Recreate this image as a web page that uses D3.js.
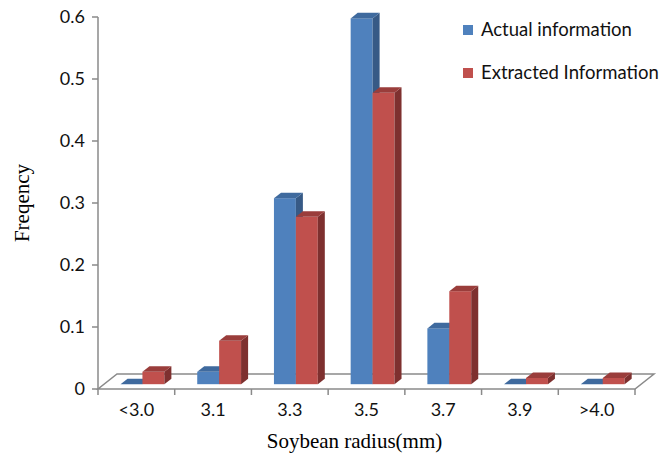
<!DOCTYPE html>
<html>
<head>
<meta charset="utf-8">
<script src="https://cdn.jsdelivr.net/npm/d3@7/dist/d3.min.js"></script>
<style>
  html, body { margin: 0; padding: 0; background: #fff; }
  svg { display: block; }
</style>
</head>
<body>
<svg id="chart" width="662" height="462"></svg>
<script>
// Category labels along the horizontal axis
const categories = ["<3.0", "3.1", "3.3", "3.5", "3.7", "3.9", ">4.0"];
// Series names and frequencies
const seriesNames = ["Actual information", "Extracted Information"];
const actualValues = [0.00, 0.02, 0.30, 0.59, 0.09, 0.00, 0.00];
const extractedValues = [0.02, 0.07, 0.27, 0.47, 0.15, 0.01, 0.01];
// Value axis ticks
const yTicks = [0, 0.1, 0.2, 0.3, 0.4, 0.5, 0.6];
const yTickLabels = ["0", "0.1", "0.2", "0.3", "0.4", "0.5", "0.6"];

const seriesValues = [actualValues, extractedValues];
const faceColors = [
  { front: "#4F81BD", top: "#3F6A9E", side: "#375A86" },
  { front: "#C0504D", top: "#9A3D3B", side: "#7E302F" }
];

const svg = d3.select("#chart");

const plot = { left: 98, right: 635, bottom: 389, top: 17 };
// Oblique depth of the floor (screen offset from front edge to back edge)
const depth = { dx: 19, dy: 15 };
// Bars sit between these fractions of the floor depth
const barFront = 0.32, barBack = 0.69;

const x = d3.scaleBand().domain(categories).range([plot.left, plot.right]).padding(0);
const xs = d3.scaleBand().domain(d3.range(seriesNames.length))
  .range([0, x.bandwidth()]).paddingInner(0).paddingOuter(0.75);
const y = d3.scaleLinear().domain([0, 0.6]).range([plot.bottom, plot.top]);

const proj = (px, py, d) => [px + d * depth.dx, py - d * depth.dy];

const grey = "#8A8A8A";
const labelFont = "Lato, 'Open Sans', sans-serif";
const titleFont = "'Liberation Serif', 'Times New Roman', serif";

// Floor
const floorPts = [
  proj(plot.left, y(0), 0), proj(plot.right, y(0), 0),
  proj(plot.right, y(0), 1), proj(plot.left, y(0), 1)
];
svg.append("polygon")
  .attr("points", floorPts.map(p => p.join(",")).join(" "))
  .attr("fill", "#fff").attr("stroke", grey).attr("stroke-width", 1.5)
  .attr("stroke-linejoin", "miter");

// Value axis
const yAxisG = svg.append("g").attr("transform", `translate(${plot.left},0)`);
yAxisG.append("line")
  .attr("x1", 0).attr("x2", 0).attr("y1", y(0.6)).attr("y2", y(0))
  .attr("stroke", grey).attr("stroke-width", 1.5);
yAxisG.selectAll("line.tick").data(yTicks).join("line")
  .attr("class", "tick")
  .attr("x1", -6).attr("x2", 0)
  .attr("y1", d => y(d)).attr("y2", d => y(d))
  .attr("stroke", grey).attr("stroke-width", 1.5);
yAxisG.selectAll("text").data(yTicks).join("text")
  .attr("x", -13).attr("y", d => y(d)).attr("dy", "0.35em")
  .attr("text-anchor", "end")
  .attr("font-family", labelFont).attr("font-size", 18)
  .attr("fill", "#111")
  .text((d, i) => yTickLabels[i]);

// Category axis ticks and labels
const catEdges = categories.map(c => x(c)).concat([plot.right]);
svg.selectAll("line.xtick").data(catEdges).join("line")
  .attr("class", "xtick")
  .attr("x1", d => d).attr("x2", d => d)
  .attr("y1", y(0)).attr("y2", y(0) + 6)
  .attr("stroke", grey).attr("stroke-width", 1.5);
svg.selectAll("text.xlab").data(categories).join("text")
  .attr("class", "xlab")
  .attr("x", d => x(d) + x.bandwidth() / 2).attr("y", 410).attr("dy", "0.35em")
  .attr("text-anchor", "middle")
  .attr("font-family", labelFont).attr("font-size", 18)
  .attr("fill", "#111")
  .text(d => d);

// 3D columns, drawn left to right so nearer faces overlap correctly
const bars = [];
categories.forEach((c, i) => {
  seriesValues.forEach((vals, s) => {
    bars.push({ cat: c, s, v: vals[i] });
  });
});
const barG = svg.append("g");
bars.forEach(b => {
  const w = xs.bandwidth();
  const x0 = x(b.cat) + xs(b.s);
  const [fx, fyTop] = proj(x0, y(b.v), barFront);
  const [, fyBot] = proj(x0, y(0), barFront);
  const ddx = (barBack - barFront) * depth.dx;
  const ddy = (barBack - barFront) * depth.dy;
  const col = faceColors[b.s];
  const g = barG.append("g");
  if (fyBot - fyTop > 0.01) {
    g.append("rect")
      .attr("x", fx).attr("y", fyTop).attr("width", w).attr("height", fyBot - fyTop)
      .attr("fill", col.front);
    g.append("polygon")
      .attr("points", [[fx + w, fyTop], [fx + w + ddx, fyTop - ddy], [fx + w + ddx, fyBot - ddy], [fx + w, fyBot]]
        .map(p => p.join(",")).join(" "))
      .attr("fill", col.side);
  }
  g.append("polygon")
    .attr("points", [[fx, fyTop], [fx + w, fyTop], [fx + w + ddx, fyTop - ddy], [fx + ddx, fyTop - ddy]]
      .map(p => p.join(",")).join(" "))
    .attr("fill", col.top);
});

// Axis titles
svg.append("text")
  .attr("x", (plot.left + plot.right) / 2 - 12).attr("y", 441).attr("dy", "0.35em")
  .attr("text-anchor", "middle")
  .attr("font-family", titleFont).attr("font-size", 21)
  .attr("fill", "#000")
  .text("Soybean radius(mm)");
svg.append("text")
  .attr("transform", "translate(22,203) rotate(-90)")
  .attr("dy", "0.35em")
  .attr("text-anchor", "middle")
  .attr("font-family", titleFont).attr("font-size", 21)
  .attr("fill", "#000")
  .text("Freqency");

// Legend
const legend = svg.append("g");
seriesNames.forEach((name, i) => {
  const ly = 30 + i * 43;
  legend.append("rect")
    .attr("x", 463).attr("y", ly - 5).attr("width", 10).attr("height", 10)
    .attr("fill", faceColors[i].front);
  legend.append("text")
    .attr("x", 481).attr("y", ly).attr("dy", "0.35em")
    .attr("font-family", labelFont).attr("font-size", 18.5)
    .attr("fill", "#111")
    .text(name);
});
</script>
</body>
</html>
